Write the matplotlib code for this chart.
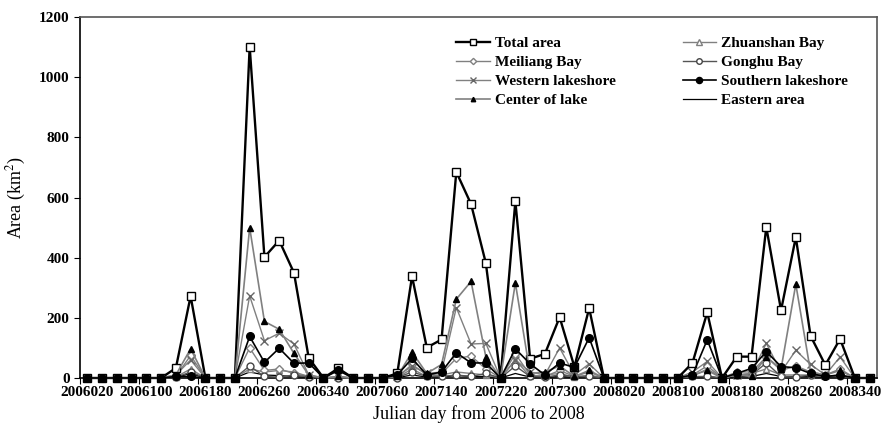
import numpy as np
from matplotlib import pyplot as plt

plt.rcParams['font.family'] = ['Liberation Serif', 'DejaVu Serif']
plt.rcParams['mathtext.fontset'] = 'stix'

# category labels shown every 4th sample (Excel style category axis)
tick_labels = ["2006020", "2006100", "2006180", "2006260", "2006340", "2007060", "2007140",
               "2007220", "2007300", "2008020", "2008100", "2008180", "2008260", "2008340"]

total_area = [0, 0, 0, 0, 0, 0, 33, 272, 0, 0, 0, 1102, 402, 457, 350, 67, 0, 32, 0, 0,
              0, 15, 338, 101, 128, 685, 578, 382, 0, 588, 64, 80, 202, 37, 232, 0, 0, 0, 0, 0,
              0, 50, 218, 0, 71, 71, 502, 225, 468, 140, 43, 130, 0, 0]
zhuanshan = [0, 0, 0, 0, 0, 0, 3, 30, 0, 0, 0, 30, 20, 25, 20, 5, 0, 2, 0, 0,
             0, 2, 30, 5, 10, 20, 15, 10, 0, 60, 5, 10, 15, 3, 10, 0, 0, 0, 0, 0,
             0, 5, 30, 0, 10, 15, 30, 10, 10, 10, 5, 10, 0, 0]
meiliang = [0, 0, 0, 0, 0, 0, 5, 75, 0, 0, 0, 100, 25, 30, 15, 5, 0, 2, 0, 0,
            0, 3, 45, 10, 15, 65, 73, 30, 0, 80, 10, 5, 25, 5, 20, 0, 0, 0, 0, 0,
            0, 10, 40, 0, 20, 20, 70, 25, 40, 20, 10, 30, 0, 0]
gonghu = [0, 0, 0, 0, 0, 0, 2, 20, 0, 0, 0, 40, 5, 3, 10, 3, 0, 1, 0, 0,
          0, 1, 20, 5, 5, 10, 5, 15, 0, 40, 5, 3, 10, 5, 5, 0, 0, 0, 0, 0,
          0, 5, 5, 0, 10, 10, 50, 5, 3, 10, 5, 5, 0, 0]
western = [0, 0, 0, 0, 0, 0, 10, 60, 0, 0, 0, 273, 124, 149, 113, 10, 0, 5, 0, 0,
           0, 5, 40, 15, 20, 234, 113, 115, 0, 60, 20, 10, 100, 10, 47, 0, 0, 0, 0, 0,
           0, 20, 55, 0, 10, 15, 115, 20, 92, 45, 10, 70, 0, 0]
southern = [0, 0, 0, 0, 0, 0, 5, 5, 0, 0, 0, 138, 52, 99, 49, 50, 0, 25, 0, 0,
            0, 10, 65, 10, 20, 84, 50, 50, 0, 97, 47, 10, 50, 35, 134, 0, 0, 0, 0, 0,
            0, 10, 127, 0, 15, 32, 88, 38, 34, 15, 5, 10, 0, 0]
center = [0, 0, 0, 0, 0, 0, 10, 97, 0, 0, 0, 500, 188, 162, 82, 10, 0, 5, 0, 0,
          0, 5, 86, 15, 45, 262, 321, 70, 0, 316, 15, 20, 40, 5, 25, 0, 0, 0, 0, 0,
          0, 10, 25, 0, 10, 5, 70, 30, 312, 20, 10, 25, 0, 0]
eastern = [0, 0, 0, 0, 0, 0, 2, 15, 0, 0, 0, 20, 10, 8, 5, 2, 0, 1, 0, 0,
           0, 1, 10, 3, 3, 8, 5, 5, 0, 15, 3, 2, 5, 2, 5, 0, 0, 0, 0, 0,
           0, 3, 5, 0, 5, 5, 15, 5, 5, 5, 2, 5, 0, 0]

x = np.arange(len(total_area))

fig, ax = plt.subplots(figsize=(8.88, 4.26), dpi=100)
fig.subplots_adjust(left=0.090, right=0.9876, top=0.960, bottom=0.1127)

gray = '#808080'
l_total, = ax.plot(x, total_area, color='black', lw=1.7, marker='s', ms=5.5,
                   mfc='white', mec='black', mew=1.0, zorder=6, clip_on=False)
l_zhu, = ax.plot(x, zhuanshan, color=gray, lw=1.0, marker='^', ms=5,
                 mfc='white', mec=gray, zorder=4, clip_on=False)
l_mei, = ax.plot(x, meiliang, color=gray, lw=1.0, marker='D', ms=4,
                 mfc='white', mec=gray, zorder=4, clip_on=False)
l_gon, = ax.plot(x, gonghu, color='#555555', lw=1.0, marker='o', ms=5,
                 mfc='white', mec='#444444', zorder=5, clip_on=False)
l_wes, = ax.plot(x, western, color=gray, lw=1.0, marker='x', ms=6,
                 mec='#666666', mew=1.0, zorder=5, clip_on=False)
l_sou, = ax.plot(x, southern, color='black', lw=1.2, marker='o', ms=5.5,
                 mfc='black', mec='black', zorder=8, clip_on=False)
l_cen, = ax.plot(x, center, color=gray, lw=1.2, marker='^', ms=4,
                 mfc='black', mec='black', zorder=7, clip_on=False)
l_eas, = ax.plot(x, eastern, color='black', lw=0.9, zorder=3, clip_on=False)

ax.set_xlim(-0.5, len(x) - 0.5)
ax.set_ylim(0, 1200)
ax.set_yticks(np.arange(0, 1201, 200))

# tick marks sit between categories, labels on the categories
ax.set_xticks(np.arange(-0.5, len(x), 4))
ax.set_xticklabels([])
ax.set_xticks(np.arange(0, len(x), 4), minor=True)
ax.set_xticklabels(tick_labels, minor=True, fontsize=11, fontweight='bold')
ax.tick_params(axis='x', which='minor', length=0, pad=6)
ax.tick_params(axis='x', which='major', length=4, direction='out', width=0.8)
ax.tick_params(axis='y', length=4, direction='out', width=0.8, labelsize=11)
for t in ax.get_yticklabels():
    t.set_fontweight('bold')

for s in ax.spines.values():
    s.set_color('#555555')
    s.set_linewidth(1.2)
ax.spines['bottom'].set_color('black')
ax.spines['left'].set_color('black')

ax.set_xlabel('Julian day from 2006 to 2008', fontsize=13, labelpad=4)
ax.set_ylabel('Area (km$^2$)', fontsize=13, labelpad=8)

handles = [l_total, l_mei, l_wes, l_cen, l_zhu, l_gon, l_sou, l_eas]
names = ['Total area', 'Meiliang Bay', 'Western lakeshore', 'Center of lake',
         'Zhuanshan Bay', 'Gonghu Bay', 'Southern lakeshore', 'Eastern area']
ax.legend(handles, names, ncol=2, loc='upper left', bbox_to_anchor=(0.455, 0.985),
          frameon=False, prop={'size': 11, 'weight': 'bold'}, handlelength=2.2,
          handletextpad=0.3, labelspacing=0.35, columnspacing=4.4, markerscale=0.8)

fig.savefig('out.png', dpi=100)
